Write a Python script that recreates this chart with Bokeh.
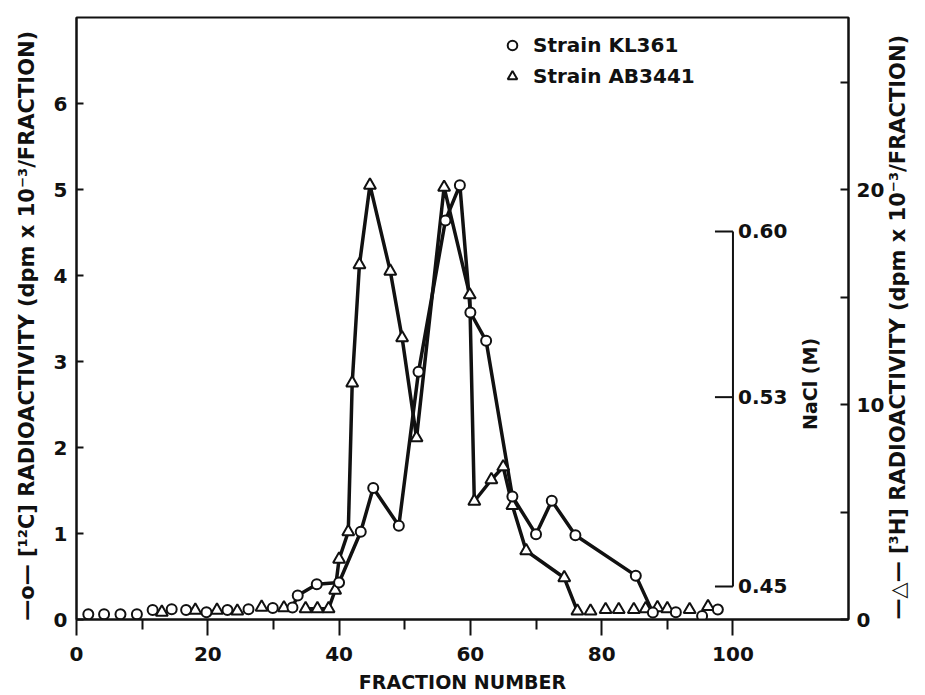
import math
from bokeh.plotting import figure
from bokeh.models import Range1d, LinearAxis, FixedTicker, Legend, LegendItem, ColumnDataSource
from bokeh.core.properties import value
from bokeh.embed import file_html
from bokeh.resources import INLINE

# ---------------- data ----------------
# Strain KL361, [12C] radioactivity (dpm x 10^-3 / fraction), left axis
kl361_fraction = [1.8, 4.2, 6.7, 9.2, 11.6, 14.5, 16.7, 19.8, 23.0, 26.2, 29.9, 32.9,
                  33.7, 36.6, 40.0, 43.3, 45.2, 49.1, 52.1, 56.2, 58.4, 60.0, 62.4,
                  66.4, 70.0, 72.4, 76.0, 85.2, 87.8, 91.3, 95.3, 97.7]
kl361_c12 = [0.06, 0.06, 0.06, 0.06, 0.11, 0.12, 0.11, 0.085, 0.11, 0.12, 0.135, 0.14,
             0.28, 0.41, 0.43, 1.02, 1.53, 1.09, 2.88, 4.64, 5.05, 3.57, 3.24,
             1.43, 0.99, 1.38, 0.98, 0.51, 0.08, 0.085, 0.04, 0.116]
kl361_line_span = (32.9, 87.8)   # fractions joined by the drawn curve

# Strain AB3441, [3H] radioactivity (dpm x 10^-3 / fraction), right axis
ab3441_fraction = [13.0, 18.1, 21.4, 24.5, 28.2, 31.6, 34.9, 36.7, 38.4, 39.4, 40.0,
                   41.4, 42.0, 43.1, 44.7, 47.8, 49.6, 51.8, 56.0, 59.9, 60.6, 63.2,
                   65.0, 66.4, 68.5, 74.3, 76.3, 78.3, 80.6, 82.6, 84.9, 86.7, 88.5,
                   90.0, 93.4, 96.2]
ab3441_h3 = [0.34, 0.43, 0.43, 0.39, 0.57, 0.54, 0.50, 0.50, 0.50, 1.36, 2.8,
             4.08, 11.0, 16.5, 20.2, 16.2, 13.1, 8.45, 20.1, 15.1, 5.5, 6.5,
             7.1, 5.3, 3.2, 1.94, 0.39, 0.39, 0.46, 0.46, 0.46, 0.50, 0.55,
             0.50, 0.46, 0.60]
ab3441_line_span = (34.9, 76.3)

# NaCl gradient scale
nacl_ticks = [0.45, 0.53, 0.60]
nacl_tick_labels = ["0.45", "0.53", "0.60"]
nacl_axis_fraction = 100

# axis ticks
x_major = [0, 20, 40, 60, 80, 100]
x_minor = [10, 30, 50, 70, 90]
left_ticks = [0, 1, 2, 3, 4, 5, 6]
right_major = [0, 10, 20]
right_minor = [5, 15, 25]

FONT = "DejaVu Sans"
INK = "#111111"

# ---------------- figure ----------------
p = figure(width=925, height=695, output_backend="svg", toolbar_location=None,
           x_range=Range1d(0, 117.6), y_range=Range1d(0, 7.0),
           min_border_left=76, min_border_right=75, min_border_top=17, min_border_bottom=75)
p.extra_y_ranges = {"h3": Range1d(0, 28.0), "nacl": Range1d(0.43605, 0.69041)}
p.xgrid.visible = False
p.ygrid.visible = False
p.outline_line_color = INK
p.outline_line_width = 2
p.background_fill_color = "white"
p.border_fill_color = "white"


def style_axis(ax):
    ax.axis_line_color = INK
    ax.axis_line_width = 2
    ax.major_tick_line_color = INK
    ax.major_tick_line_width = 2
    ax.minor_tick_line_color = INK
    ax.minor_tick_line_width = 2
    ax.major_label_text_font = FONT
    ax.major_label_text_font_style = "bold"
    ax.major_label_text_font_size = "20px"
    ax.major_label_text_color = INK
    ax.axis_label_text_font = FONT
    ax.axis_label_text_font_style = "bold"
    ax.axis_label_text_color = INK


xa = p.xaxis[0]
style_axis(xa)
xa.ticker = FixedTicker(ticks=x_major, minor_ticks=x_minor)
xa.major_tick_out = 16
xa.major_tick_in = 0
xa.minor_tick_out = 10
xa.minor_tick_in = 0
xa.major_label_standoff = 11
xa.axis_label = "FRACTION NUMBER"
xa.axis_label_text_font_size = "19px"
xa.axis_label_standoff = 7

ya = p.yaxis[0]
style_axis(ya)
ya.ticker = FixedTicker(ticks=left_ticks, minor_ticks=[])
ya.major_tick_in = 7
ya.major_tick_out = 0
ya.minor_tick_in = 0
ya.minor_tick_out = 0
ya.major_label_standoff = 9
ya.axis_label = "\u2014o\u2014  [\u00b9\u00b2C] RADIOACTIVITY  (dpm x 10\u207b\u00b3/FRACTION)"
ya.axis_label_text_font_size = "21px"
ya.axis_label_standoff = 12

ra = LinearAxis(y_range_name="h3")
style_axis(ra)
ra.ticker = FixedTicker(ticks=right_major, minor_ticks=right_minor)
ra.major_tick_in = 8
ra.major_tick_out = 0
ra.minor_tick_in = 8
ra.minor_tick_out = 0
ra.major_label_standoff = 8
ra.axis_label = "\u2014\u25b3\u2014  [\u00b3H] RADIOACTIVITY  (dpm x 10\u207b\u00b3/FRACTION)"
ra.axis_label_text_font_size = "21px"
ra.axis_label_standoff = 11
_props = ra.properties()
if "axis_label_orientation" in _props:
    ra.axis_label_orientation = math.pi / 2
if "axis_label_align" in _props:
    ra.axis_label_align = "start"
p.add_layout(ra, "right")

# ---------------- NaCl scale drawn inside the frame ----------------
p.segment(x0=[nacl_axis_fraction], y0=[min(nacl_ticks)], x1=[nacl_axis_fraction], y1=[max(nacl_ticks)],
          y_range_name="nacl", line_color=INK, line_width=2)
p.ray(x=[nacl_axis_fraction] * len(nacl_ticks), y=nacl_ticks, length=18, length_units="screen",
      angle=math.pi, y_range_name="nacl", line_color=INK, line_width=2)
p.text(x=[nacl_axis_fraction] * len(nacl_ticks), y=nacl_ticks, text=nacl_tick_labels,
       y_range_name="nacl", x_offset=5, text_align="left", text_baseline="middle",
       text_font=value(FONT), text_font_style="bold", text_font_size="20px", text_color=INK)
p.text(x=[nacl_axis_fraction], y=[0.537], text=["NaCl  (M)"], y_range_name="nacl",
       x_offset=77, angle=math.pi / 2, text_align="center", text_baseline="middle",
       text_font=value(FONT), text_font_style="bold", text_font_size="19px", text_color=INK)

# ---------------- series ----------------
kl_line = [(f, v) for f, v in zip(kl361_fraction, kl361_c12) if kl361_line_span[0] <= f <= kl361_line_span[1]]
ab_line = [(f, v) for f, v in zip(ab3441_fraction, ab3441_h3) if ab3441_line_span[0] <= f <= ab3441_line_span[1]]

p.line([f for f, _ in ab_line], [v for _, v in ab_line], y_range_name="h3", line_color=INK, line_width=3.5)
p.line([f for f, _ in kl_line], [v for _, v in kl_line], line_color=INK, line_width=3.5)

ab_src = ColumnDataSource(dict(x=ab3441_fraction, y=ab3441_h3))
kl_src = ColumnDataSource(dict(x=kl361_fraction, y=kl361_c12))
ab_pts = p.scatter("x", "y", source=ab_src, y_range_name="h3", marker="triangle", size=12,
                   fill_color="white", line_color=INK, line_width=2)
kl_pts = p.scatter("x", "y", source=kl_src, marker="circle", size=10,
                   fill_color="white", line_color=INK, line_width=2)

legend = Legend(items=[LegendItem(label="Strain KL361", renderers=[kl_pts]),
                       LegendItem(label="Strain AB3441", renderers=[ab_pts])],
                location=(424, 531), orientation="vertical",
                border_line_alpha=0, background_fill_alpha=0,
                padding=0, margin=0, spacing=7, glyph_width=24, glyph_height=24,
                label_height=24, label_standoff=9,
                label_text_font=FONT, label_text_font_style="bold",
                label_text_font_size="20px", label_text_color=INK)
p.add_layout(legend)

open("out.html", "w").write(file_html(p, INLINE))
